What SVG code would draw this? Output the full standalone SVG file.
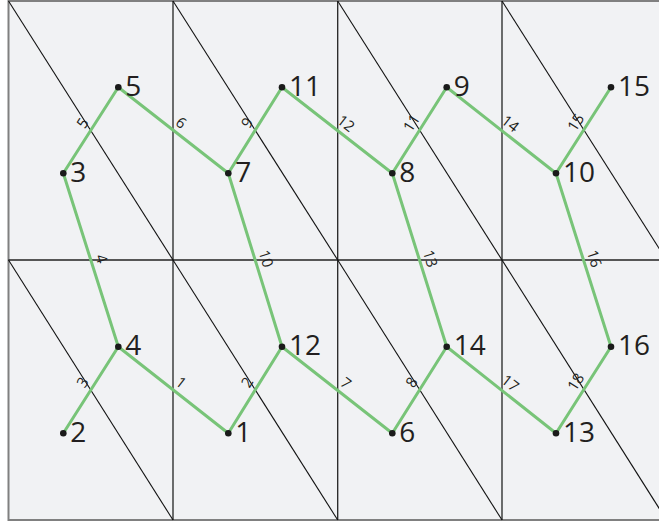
<svg xmlns="http://www.w3.org/2000/svg" width="659" height="522" viewBox="0 0 659 522">
<style>
.grid{stroke:#222;stroke-width:1.3;fill:none}
.diag{stroke:#111;stroke-width:1.1;fill:none}
.edge{stroke:#78c478;stroke-width:3;fill:none;stroke-linecap:round}
.dot{fill:#1a1a1a}
.nl{font-family:"Open Sans","Noto Sans",sans-serif;font-size:28px;fill:#231f20}
.el{font-family:"Open Sans","Noto Sans",sans-serif;font-size:15px;fill:#231f20;text-anchor:middle}
</style>
<rect x="0" y="0" width="659" height="522" fill="#ffffff"/>
<rect x="8.5" y="1" width="660" height="519" fill="#f1f2f4" stroke="#808080" stroke-width="2"/>
<g id="grid">
<line class="grid" x1="173" y1="1" x2="173" y2="520"/>
<line class="grid" x1="337.7" y1="1" x2="337.7" y2="520"/>
<line class="grid" x1="502" y1="1" x2="502" y2="520"/>
<line class="grid" x1="8.5" y1="260" x2="659" y2="260"/>
<line class="diag" x1="8.5" y1="1" x2="173" y2="260"/>
<line class="diag" x1="173" y1="1" x2="337.7" y2="260"/>
<line class="diag" x1="337.7" y1="1" x2="502" y2="260"/>
<line class="diag" x1="502" y1="1" x2="666.5" y2="260"/>
<line class="diag" x1="8.5" y1="260" x2="173" y2="520"/>
<line class="diag" x1="173" y1="260" x2="337.7" y2="520"/>
<line class="diag" x1="337.7" y1="260" x2="502" y2="520"/>
<line class="diag" x1="502" y1="260" x2="666.5" y2="520"/>
</g>
<g id="connectors">
<line class="edge" x1="118.3" y1="346.7" x2="228.3" y2="433.3"/>
<line class="edge" x1="228.3" y1="433.3" x2="282" y2="346.7"/>
<line class="edge" x1="63.3" y1="433.3" x2="118.3" y2="346.7"/>
<line class="edge" x1="63.3" y1="173.3" x2="118.3" y2="346.7"/>
<line class="edge" x1="63.3" y1="173.3" x2="118.3" y2="87.3"/>
<line class="edge" x1="118.3" y1="87.3" x2="228.3" y2="173.3"/>
<line class="edge" x1="282" y1="346.7" x2="392.3" y2="433.3"/>
<line class="edge" x1="392.3" y1="433.3" x2="446.7" y2="346.7"/>
<line class="edge" x1="228.3" y1="173.3" x2="282" y2="87.3"/>
<line class="edge" x1="228.3" y1="173.3" x2="282" y2="346.7"/>
<line class="edge" x1="392.3" y1="173.3" x2="446.7" y2="87.3"/>
<line class="edge" x1="282" y1="87.3" x2="392.3" y2="173.3"/>
<line class="edge" x1="392.3" y1="173.3" x2="446.7" y2="346.7"/>
<line class="edge" x1="446.7" y1="87.3" x2="556" y2="173.3"/>
<line class="edge" x1="556" y1="173.3" x2="611" y2="87.3"/>
<line class="edge" x1="556" y1="173.3" x2="611" y2="346.7"/>
<line class="edge" x1="446.7" y1="346.7" x2="556" y2="433.3"/>
<line class="edge" x1="556" y1="433.3" x2="611" y2="346.7"/>
<text class="el" transform="translate(173,389.7) rotate(38)" x="2" y="-5.5">1</text>
<text class="el" transform="translate(255.1,389.8) rotate(-57.4)" x="2" y="-5.5">2</text>
<text class="el" transform="translate(90.7,389.8) rotate(-57.4)" x="2" y="-5.5">3</text>
<text class="el" transform="translate(90.8,260) rotate(72.4)" x="2" y="-5.5">4</text>
<text class="el" transform="translate(90.7,130.5) rotate(-57.4)" x="2" y="-5.5">5</text>
<text class="el" transform="translate(173,130.1) rotate(38)" x="2" y="-5.5">6</text>
<text class="el" transform="translate(337.7,390.4) rotate(38)" x="2" y="-5.5">7</text>
<text class="el" transform="translate(419.5,389.8) rotate(-57.4)" x="2" y="-5.5">8</text>
<text class="el" transform="translate(255.1,130.4) rotate(-57.4)" x="2" y="-5.5">9</text>
<text class="el" transform="translate(255.2,260) rotate(72.8)" x="2" y="-5.5">10</text>
<text class="el" transform="translate(419.5,130.3) rotate(-57.4)" x="2" y="-5.5">11</text>
<text class="el" transform="translate(337.7,130.7) rotate(38)" x="2" y="-5.5">12</text>
<text class="el" transform="translate(419.5,260) rotate(72.6)" x="2" y="-5.5">13</text>
<text class="el" transform="translate(502,130.8) rotate(38)" x="2" y="-5.5">14</text>
<text class="el" transform="translate(583.7,129.9) rotate(-57.4)" x="2" y="-5.5">15</text>
<text class="el" transform="translate(583.5,260) rotate(72.4)" x="2" y="-5.5">16</text>
<text class="el" transform="translate(502,390.5) rotate(38)" x="2" y="-5.5">17</text>
<text class="el" transform="translate(583.7,389.5) rotate(-57.4)" x="2" y="-5.5">18</text>
</g>
<g id="node1"><circle class="dot" cx="228.3" cy="433.3" r="3.3"/><text class="nl" x="235.3" y="442">1</text></g>
<g id="node2"><circle class="dot" cx="63.3" cy="433.3" r="3.3"/><text class="nl" x="70.3" y="442">2</text></g>
<g id="node3"><circle class="dot" cx="63.3" cy="173.3" r="3.3"/><text class="nl" x="70.3" y="182">3</text></g>
<g id="node4"><circle class="dot" cx="118.3" cy="346.7" r="3.3"/><text class="nl" x="125.3" y="355.4">4</text></g>
<g id="node5"><circle class="dot" cx="118.3" cy="87.3" r="3.3"/><text class="nl" x="125.3" y="96">5</text></g>
<g id="node6"><circle class="dot" cx="392.3" cy="433.3" r="3.3"/><text class="nl" x="399.3" y="442">6</text></g>
<g id="node7"><circle class="dot" cx="228.3" cy="173.3" r="3.3"/><text class="nl" x="235.3" y="182">7</text></g>
<g id="node8"><circle class="dot" cx="392.3" cy="173.3" r="3.3"/><text class="nl" x="399.3" y="182">8</text></g>
<g id="node9"><circle class="dot" cx="446.7" cy="87.3" r="3.3"/><text class="nl" x="453.7" y="96">9</text></g>
<g id="node10"><circle class="dot" cx="556" cy="173.3" r="3.3"/><text class="nl" x="563" y="182">10</text></g>
<g id="node11"><circle class="dot" cx="282" cy="87.3" r="3.3"/><text class="nl" x="289" y="96">11</text></g>
<g id="node12"><circle class="dot" cx="282" cy="346.7" r="3.3"/><text class="nl" x="289" y="355.4">12</text></g>
<g id="node13"><circle class="dot" cx="556" cy="433.3" r="3.3"/><text class="nl" x="563" y="442">13</text></g>
<g id="node14"><circle class="dot" cx="446.7" cy="346.7" r="3.3"/><text class="nl" x="453.7" y="355.4">14</text></g>
<g id="node15"><circle class="dot" cx="611" cy="87.3" r="3.3"/><text class="nl" x="618" y="96">15</text></g>
<g id="node16"><circle class="dot" cx="611" cy="346.7" r="3.3"/><text class="nl" x="618" y="355.4">16</text></g>
</svg>
